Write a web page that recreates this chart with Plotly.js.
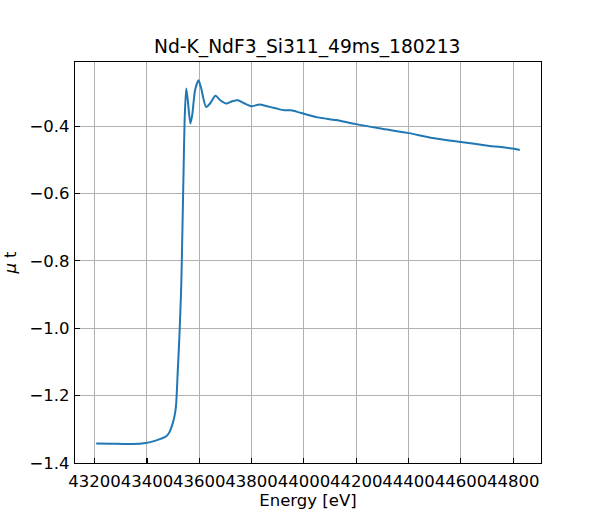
<!DOCTYPE html>
<html>
<head>
<meta charset="utf-8">
<script src="https://cdn.plot.ly/plotly-3.0.1.min.js"></script>
<style>body{margin:0;background:#fff;}</style>
</head>
<body>
<div id="chart" style="width:600px;height:520px;"></div>
<script>
// energy scan
var energy = [43206, 43264, 43340, 43397, 43436, 43455, 43474, 43485, 43499, 43508,
    43512, 43518, 43524, 43531, 43535, 43540, 43544, 43550, 43556, 43566,
    43573, 43584, 43597, 43607, 43626, 43642, 43662, 43680, 43703, 43726,
    43747, 43771, 43798, 43830, 43859, 43887, 43925, 43951, 43989, 44053,
    44123, 44198, 44293, 44396, 44492, 44600, 44703, 44803, 44825];
var mut = [-1.342, -1.343, -1.344, -1.341, -1.333, -1.328, -1.321, -1.310, -1.281, -1.250,
    -1.221, -1.123, -1.024, -0.876, -0.728, -0.530, -0.382, -0.288, -0.323, -0.392,
    -0.367, -0.293, -0.264, -0.287, -0.343, -0.332, -0.310, -0.323, -0.333, -0.326,
    -0.323, -0.332, -0.341, -0.336, -0.341, -0.346, -0.353, -0.353, -0.361, -0.374,
    -0.382, -0.394, -0.407, -0.420, -0.435, -0.447, -0.458, -0.467, -0.471];

var chartTitle = 'Nd-K_NdF3_Si311_49ms_180213';
var xLabel = 'Energy [eV]';
var yLabel = '<i>μ</i> t';

var font = {family: 'DejaVu Sans', size: 16.5, color: '#000'};

var data = [{
    x: energy,
    y: mut,
    type: 'scatter',
    mode: 'lines',
    line: {color: '#1f77b4', width: 2, shape: 'spline', smoothing: 0.7},
    hoverinfo: 'skip'
}];

var axisStyle = {
    showline: true,
    mirror: true,
    linecolor: '#000',
    linewidth: 1.1,
    showgrid: true,
    gridcolor: '#b0b0b0',
    gridwidth: 1,
    zeroline: false,
    ticks: 'inside',
    ticklen: 5,
    tickwidth: 1.1,
    tickcolor: '#000',
    tickfont: font
};

var layout = {
    width: 600,
    height: 520,
    margin: {l: 75, r: 59, t: 62, b: 57},
    paper_bgcolor: '#fff',
    plot_bgcolor: '#fff',
    font: font,
    showlegend: false,
    title: {
        text: chartTitle,
        font: {family: 'DejaVu Sans', size: 18.7, color: '#000'},
        x: 0.512,
        xanchor: 'center',
        y: 0.91,
        yanchor: 'middle',
        yref: 'container'
    },
    xaxis: Object.assign({}, axisStyle, {
        range: [43125, 44906],
        tick0: 43200,
        dtick: 200,
        tickmode: 'linear',
        tickangle: 0,
        tickformat: 'd',
        ticklabelstandoff: 3,
        title: {text: xLabel, font: font, standoff: 4}
    }),
    yaxis: Object.assign({}, axisStyle, {
        range: [-1.4002, -0.2096],
        tick0: -1.4,
        dtick: 0.2,
        tickmode: 'linear',
        tickformat: '.1f',
        ticklabelstandoff: 1,
        title: {text: yLabel, font: font, standoff: 8}
    })
};

Plotly.newPlot('chart', data, layout, {staticPlot: true, displayModeBar: false});
</script>
</body>
</html>
